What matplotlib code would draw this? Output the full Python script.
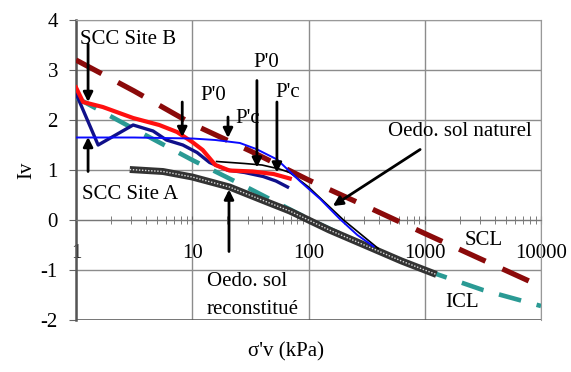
import matplotlib
matplotlib.use("Agg")
import matplotlib.pyplot as plt

plt.rcParams['font.family'] = ['Liberation Serif', 'DejaVu Serif']
plt.rcParams['font.size'] = 15

# courbes (sigma'v en kPa, Iv)
scl_x = [1, 3.16, 10, 31.6, 100, 316, 1000, 3162, 10000]
scl_iv = [3.2, 2.58, 1.92, 1.38, 0.80, 0.27, -0.27, -0.80, -1.33]

icl_x = [1, 3.16, 10, 31.6, 100, 316, 1000, 3162, 10000]
icl_iv = [2.45, 1.82, 1.20, 0.62, 0.02, -0.52, -1.0, -1.40, -1.72]

recon_x = [2.9, 5.6, 10, 20.9, 39.8, 69, 100, 151, 355, 631, 1259]
recon_iv = [1.01, 0.97, 0.86, 0.66, 0.40, 0.18, 0.0, -0.20, -0.57, -0.82, -1.09]

siteB_x = [1, 1.15, 1.7, 3.1, 5.2, 7.4, 10, 12.3, 15.8, 20.9, 33.1, 50, 69]
siteB_iv = [2.65, 2.36, 2.26, 2.04, 1.90, 1.76, 1.56, 1.40, 1.10, 0.99, 0.97, 0.92, 0.83]

siteA_x = [1, 1.55, 3.1, 4.6, 6.0, 8.3, 11, 14.1, 20, 28.2, 40.7, 52.5, 66]
siteA_iv = [2.53, 1.50, 1.90, 1.78, 1.60, 1.50, 1.35, 1.15, 1.00, 0.95, 0.87, 0.78, 0.66]

nat_x = [1, 3.16, 10, 15.8, 25.7, 35.5, 53.7, 69, 85, 126, 186, 263, 363]
nat_iv = [1.65, 1.65, 1.63, 1.60, 1.54, 1.42, 1.21, 0.97, 0.77, 0.42, 0.02, -0.30, -0.53]

nat2_x = [16.2, 28.2, 39.8, 56.2, 69, 100, 200, 398]
nat2_iv = [1.17, 1.13, 1.10, 1.02, 0.95, 0.66, 0.0, -0.57]

xticks = [1, 10, 100, 1000, 10000]
xlabels = ['1', '10', '100', '1000', '10000']
yticks = [-2, -1, 0, 1, 2, 3, 4]

fig = plt.figure(figsize=(5.71, 3.72), dpi=100)
ax = fig.add_axes([0.1331, 0.1398, 0.8144, 0.8064])
ax.set_xscale('log')
ax.set_xlim(1, 10000)
ax.set_ylim(-2, 4)

ax.grid(True, which='major', color='#8c8c8c', lw=1.0)
ax.set_axisbelow(True)

ax.plot(scl_x, scl_iv, color='#8b0a0a', lw=3.8, ls=(0, (5.5, 3.5)), zorder=3)
ax.plot(icl_x, icl_iv, color='#2a9a94', lw=3.3, ls=(0, (5, 3.5)), zorder=3)
ax.plot(recon_x, recon_iv, color='#333333', lw=5.0, zorder=4, solid_capstyle='butt')
ax.plot(recon_x, recon_iv, color='#dddddd', lw=1.0, ls=(0, (1, 1.2)), zorder=4)
ax.plot(siteA_x, siteA_iv, color='#10108a', lw=2.4, zorder=5)
ax.plot(siteB_x, siteB_iv, color='#ff1010', lw=3.0, zorder=6)
ax.plot(nat2_x, nat2_iv, color='black', lw=1.2, zorder=6)
ax.plot(nat_x, nat_iv, color='#0a0aff', lw=1.4, zorder=7)

# axe des x sur Iv = 0
ax.spines['bottom'].set_position(('data', 0))
ax.spines['bottom'].set_color('#777777')
ax.spines['left'].set_color('#555555')
ax.spines['left'].set_linewidth(1.8)
ax.spines['top'].set_color('#999999')
ax.spines['right'].set_color('#999999')
ax.axhline(-2, color='#555555', lw=1.8, zorder=2)

ax.set_xticks(xticks)
ax.set_xticklabels(xlabels)
ax.set_yticks(yticks)
ax.set_yticklabels([str(v) for v in yticks])
ax.tick_params(axis='x', which='both', direction='inout', length=6, color='#666666', pad=14)
ax.tick_params(axis='x', which='minor', labelbottom=False)
ax.tick_params(axis='y', direction='out', length=5, color='#666666', pad=8)

ax.set_ylabel('Iv', labelpad=3)
fig.text(0.5, 0.053, "σ'v (kPa)", ha='center', va='center', fontsize=15)

arrow = dict(arrowstyle='-|>', color='black', lw=2.0, mutation_scale=14, shrinkA=0, shrinkB=0)
ax.annotate('', xy=(1.27, 2.36), xytext=(1.27, 3.52), arrowprops=arrow, zorder=8)
ax.annotate('', xy=(1.27, 1.66), xytext=(1.27, 0.97), arrowprops=arrow, zorder=8)
ax.annotate('', xy=(8.2, 1.66), xytext=(8.2, 2.36), arrowprops=arrow, zorder=8)
ax.annotate('', xy=(20.3, 1.64), xytext=(20.3, 2.06), arrowprops=arrow, zorder=8)
ax.annotate('', xy=(36, 1.05), xytext=(36, 2.79), arrowprops=arrow, zorder=8)
ax.annotate('', xy=(53.5, 0.95), xytext=(53.5, 2.36), arrowprops=arrow, zorder=8)
ax.annotate('', xy=(20.7, 0.61), xytext=(20.7, -0.63), arrowprops=arrow, zorder=8)
ax.annotate('', xy=(162, 0.28), xytext=(912, 1.41), arrowprops=arrow, zorder=8)

ax.text(1.08, 3.62, 'SCC Site B', ha='left', va='center', zorder=9)
ax.text(1.12, 0.51, 'SCC Site A', ha='left', va='center', zorder=9)
ax.text(11.7, 2.50, "P'0", ha='left', va='center', zorder=9)
ax.text(23.3, 2.04, "P'c", ha='left', va='center', zorder=9)
ax.text(33.3, 3.15, "P'0", ha='left', va='center', zorder=9)
ax.text(51.5, 2.55, "P'c", ha='left', va='center', zorder=9)
ax.text(483, 1.78, 'Oedo. sol naturel', ha='left', va='center', zorder=9)
ax.text(2218, -0.42, 'SCL', ha='left', va='center', zorder=9)
ax.text(1486, -1.66, 'ICL', ha='left', va='center', zorder=9)
ax.text(13.4, -1.23, 'Oedo. sol', ha='left', va='center', zorder=9)
ax.text(13.4, -1.80, 'reconstitué', ha='left', va='center', zorder=9)

fig.savefig('out.png', dpi=100)
